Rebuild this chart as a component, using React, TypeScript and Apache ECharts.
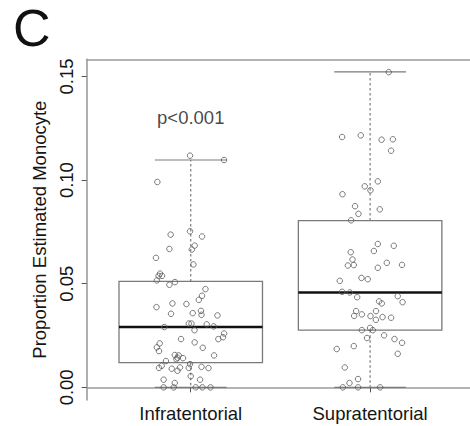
import React, { useEffect, useRef } from "react";
import * as echarts from "echarts";

const categories = ["Infratentorial", "Supratentorial"];
const categoryPositions = [1, 2];
const yTicks = [0, 0.05, 0.1, 0.15];
const yTitle = "Proportion Estimated Monocyte";
const panelLabel = "C";
const pValueText = "p<0.001";
const pValuePos = [1, 0.13];

// [lower whisker, Q1, median, Q3, upper whisker]
const infraStats = [0, 0.0119, 0.0291, 0.0511, 0.1097];
const supraStats = [0, 0.0276, 0.0458, 0.0805, 0.1522];

const infraValues = [
  0.1118, 0.1097, 0.0991, 0.0753, 0.0737, 0.0728, 0.0668, 0.0684, 0.0665, 0.0625,
  0.0593, 0.0549, 0.0538, 0.0538, 0.0516, 0.0495, 0.0508, 0.0474, 0.0442, 0.0422,
  0.0387, 0.0405, 0.0402, 0.0369, 0.035, 0.0355, 0.0358, 0.0347, 0.0308, 0.0308,
  0.0304, 0.0294, 0.0291, 0.0276, 0.026, 0.0242, 0.0233, 0.0233, 0.0212, 0.0217,
  0.0193, 0.0175, 0.0191, 0.0154, 0.0156, 0.0154, 0.0136, 0.0143, 0.0141, 0.0127,
  0.0104, 0.0094, 0.009, 0.008, 0.0096, 0.0094, 0.0112, 0.0099, 0.0093, 0.0054,
  0.0037, 0.0037, 0.0021, 0, 0, 0, 0, 0,
];
const infraJitter = [
  -0.004, 0.186, -0.186, -0.004, -0.112, 0.063, -0.119, 0.022, 0.006, -0.194,
  0.015, -0.171, -0.179, -0.16, -0.189, -0.119, -0.088, 0.082, 0.063, 0.045,
  -0.191, -0.102, -0.024, 0.057, 0.06, -0.11, 0.011, 0.149, -0.011, 0.004,
  0.089, 0.128, -0.147, 0.021, 0.186, 0.18, 0.154, -0.054, -0.173, 0.022,
  -0.189, -0.177, 0.067, 0.13, -0.089, -0.067, -0.08, -0.074, -0.043, -0.138,
  -0.162, -0.177, -0.106, -0.074, -0.06, -0.011, -0.004, 0.06, 0.099, 0.0,
  -0.151, 0.052, -0.089, -0.151, -0.095, 0.028, 0.065, 0.11,
];

const supraValues = [
  0.1521, 0.1208, 0.1216, 0.1195, 0.1197, 0.1142, 0.0994, 0.097, 0.0951, 0.0932,
  0.0874, 0.0859, 0.0837, 0.0806, 0.0692, 0.0683, 0.0658, 0.0652, 0.0617, 0.0588,
  0.059, 0.0601, 0.0591, 0.0577, 0.0528, 0.0522, 0.0514, 0.0461, 0.0458, 0.0435,
  0.044, 0.0415, 0.0405, 0.0411, 0.0368, 0.0368, 0.0345, 0.0352, 0.0344, 0.0326,
  0.0339, 0.0336, 0.0276, 0.0287, 0.0276, 0.0238, 0.0251, 0.0233, 0.0215, 0.0185,
  0.0199, 0.0162, 0.0096, 0.0021, 0.004, 0, 0, 0,
];
const supraJitter = [
  0.104, -0.156, -0.052, 0.064, 0.127, 0.117, 0.043, -0.03, 0.002, -0.154,
  -0.084, 0.054, -0.065, -0.106, 0.043, 0.132, 0.021, -0.108, -0.098, -0.124,
  -0.091, 0.093, 0.178, 0.043, -0.048, -0.013, -0.169, -0.156, -0.113, -0.072,
  0.154, 0.05, 0.065, 0.181, -0.078, 0.033, -0.089, -0.046, 0.002, 0.032,
  0.069, 0.117, -0.046, 0.0, 0.015, -0.017, 0.078, 0.136, 0.178, -0.186,
  -0.091, 0.154, -0.141, -0.115, -0.067, -0.152, -0.067, 0.056,
];

const FONT = "Liberation Sans, Arial, Helvetica, sans-serif";
const BOX_WIDTH = 0.8;
const CAP_WIDTH = 0.4;
const X_MIN = 0.42;
const X_MAX = 2.65;
const Y_MIN = -0.0061;
const Y_MAX = 0.1583;
const FRAME = { color: "#9c9c9c", width: 1.6 };

export default function App() {
  const ref = useRef<HTMLDivElement>(null);

  useEffect(() => {
    if (!ref.current) return;
    const chart = echarts.init(ref.current, null, { renderer: "svg" });

    const boxData = [infraStats, supraStats].map((s, i) => [categoryPositions[i], ...s]);
    const pointData = [
      ...infraValues.map((v, i) => [categoryPositions[0] + infraJitter[i], v]),
      ...supraValues.map((v, i) => [categoryPositions[1] + supraJitter[i], v]),
    ];

    chart.setOption({
      animation: false,
      backgroundColor: "#ffffff",
      textStyle: { fontFamily: FONT },
      graphic: [
        {
          type: "text",
          left: 13,
          top: 2,
          style: { text: panelLabel, fontSize: 52, fontFamily: FONT, fill: "#111" },
        },
      ],
      grid: {
        left: 86.7,
        top: 59.3,
        width: 400,
        height: 340.7,
        outerBoundsMode: "none",
        containLabel: false,
        show: false,
      },
      xAxis: [
        {
          type: "value",
          min: X_MIN,
          max: X_MAX,
          position: "bottom",
          splitLine: { show: false },
          axisLine: { show: true, lineStyle: FRAME },
          axisTick: {
            show: true,
            length: 5,
            customValues: categoryPositions,
            lineStyle: { color: "#555", width: 1 },
          },
          axisLabel: {
            show: true,
            customValues: categoryPositions,
            formatter: (v: number) => categories[categoryPositions.indexOf(Math.round(v))] ?? "",
            fontSize: 18.5,
            fontFamily: FONT,
            color: "#151515",
            margin: 4,
          },
        },
        {
          type: "value",
          min: X_MIN,
          max: X_MAX,
          position: "top",
          splitLine: { show: false },
          axisLine: { show: true, lineStyle: FRAME },
          axisTick: { show: false },
          axisLabel: { show: false },
        },
      ],
      yAxis: {
        type: "value",
        min: Y_MIN,
        max: Y_MAX,
        splitLine: { show: false },
        axisLine: { show: true, lineStyle: FRAME },
        axisTick: {
          show: true,
          length: 5,
          customValues: yTicks,
          lineStyle: { color: "#555", width: 1 },
        },
        axisLabel: {
          show: true,
          customValues: yTicks,
          rotate: 90,
          formatter: (v: number) => v.toFixed(2),
          fontSize: 18.5,
          fontFamily: FONT,
          color: "#151515",
          margin: 11,
        },
        name: yTitle,
        nameLocation: "middle",
        nameGap: 32,
        nameTextStyle: { fontSize: 18.5, fontFamily: FONT, color: "#151515" },
      },
      series: [
        {
          type: "custom",
          z: 2,
          data: boxData,
          encode: { x: 0, y: [1, 2, 3, 4, 5] },
          renderItem: (params: any, api: any) => {
            const x = api.value(0);
            const lo = api.value(1);
            const q1 = api.value(2);
            const med = api.value(3);
            const q3 = api.value(4);
            const hi = api.value(5);
            const cx = api.coord([x, med])[0];
            const y = (v: number) => api.coord([x, v])[1];
            const hb = api.size([BOX_WIDTH / 2, 0])[0];
            const hc = api.size([CAP_WIDTH / 2, 0])[0];
            const grey = { stroke: "#7a7a7a", lineWidth: 1.2 };
            return {
              type: "group",
              children: [
                {
                  type: "line",
                  shape: { x1: cx, y1: y(q3), x2: cx, y2: y(hi) },
                  style: { ...grey, lineDash: [2.5, 2.5] },
                },
                {
                  type: "line",
                  shape: { x1: cx, y1: y(q1), x2: cx, y2: y(lo) },
                  style: { ...grey, lineDash: [2.5, 2.5] },
                },
                {
                  type: "line",
                  shape: { x1: cx - hc, y1: y(hi), x2: cx + hc, y2: y(hi) },
                  style: grey,
                },
                {
                  type: "line",
                  shape: { x1: cx - hc, y1: y(lo), x2: cx + hc, y2: y(lo) },
                  style: grey,
                },
                {
                  type: "rect",
                  shape: { x: cx - hb, y: y(q3), width: 2 * hb, height: y(q1) - y(q3) },
                  style: { fill: "none", stroke: "#7a7a7a", lineWidth: 1.3 },
                },
                {
                  type: "line",
                  shape: { x1: cx - hb, y1: y(med), x2: cx + hb, y2: y(med) },
                  style: { stroke: "#111", lineWidth: 2.6 },
                },
              ],
            };
          },
        },
        {
          type: "scatter",
          z: 3,
          data: pointData,
          symbol: "circle",
          symbolSize: 5.5,
          itemStyle: { color: "transparent", borderColor: "#5a5a5a", borderWidth: 1 },
        },
        {
          type: "scatter",
          z: 4,
          data: [pValuePos],
          symbolSize: 1,
          itemStyle: { color: "transparent" },
          label: {
            show: true,
            position: "inside",
            formatter: pValueText,
            fontSize: 18.5,
            fontFamily: FONT,
            color: "#151515",
          },
        },
      ],
    });

    return () => chart.dispose();
  }, []);

  return (
    <div
      ref={ref}
      style={{ position: "absolute", left: 0, top: 0, width: 470, height: 426 }}
    />
  );
}
